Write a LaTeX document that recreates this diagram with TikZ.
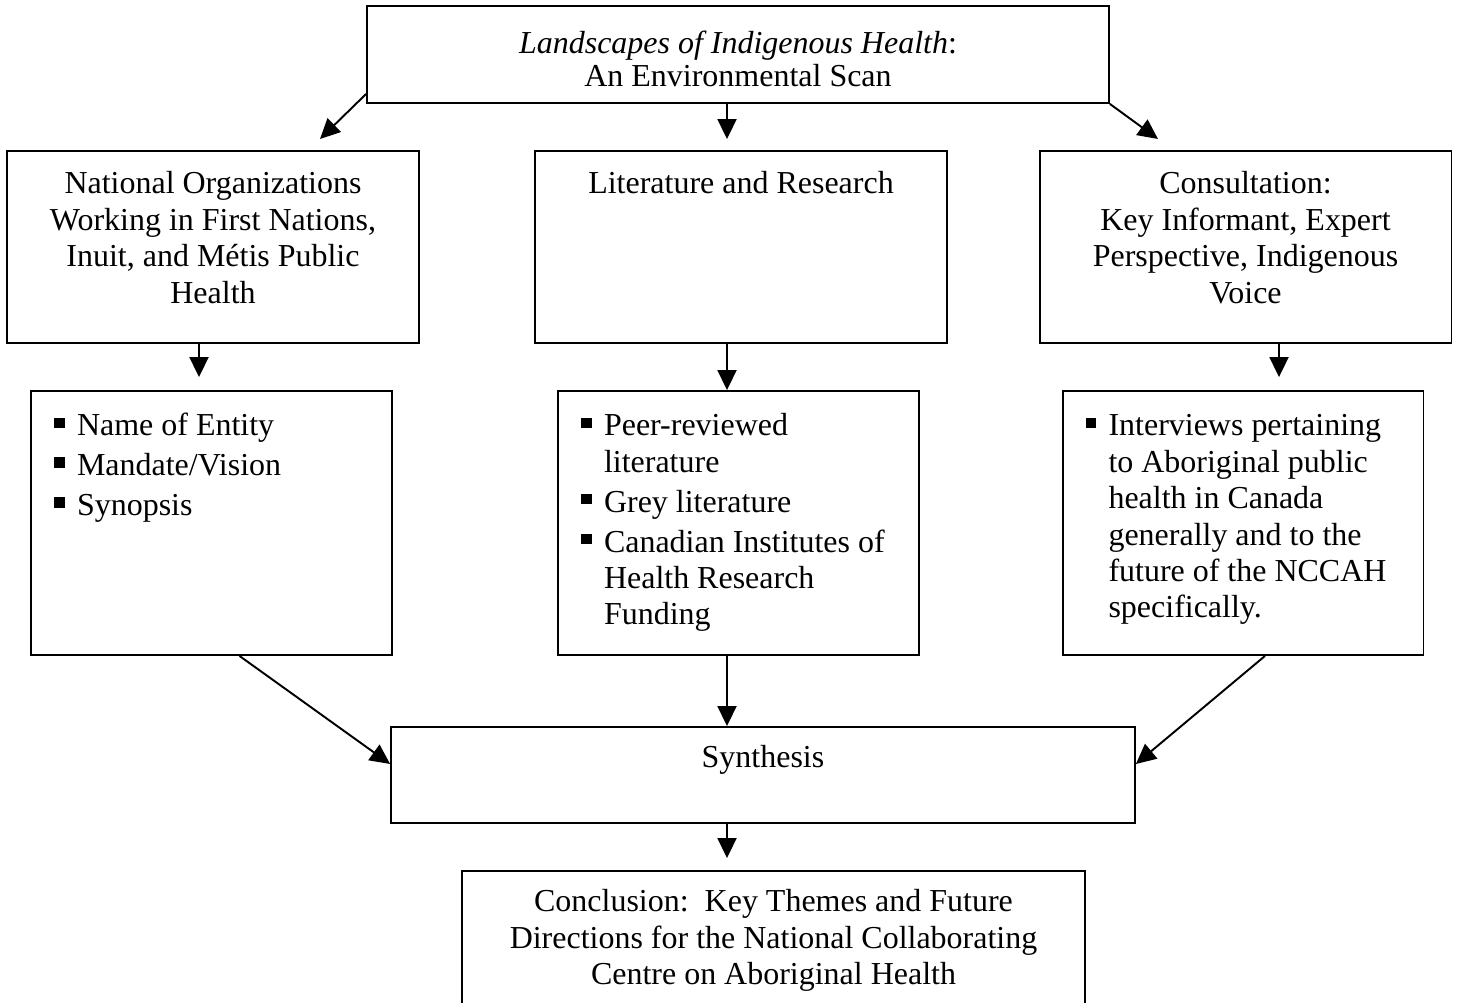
\documentclass[tikz,border=0pt]{standalone}
\usepackage{fontspec}
\setmainfont{Liberation Serif}
\usetikzlibrary{positioning, calc, arrows.meta}

\newcommand{\boxtext}[4]{\parbox[c][#2][t]{#1}{\vspace*{#3}#4}}
\newcommand{\sqitem}{\par\hangindent=0.92cm\hangafter=1\noindent\hspace*{0.46cm}\makebox[0.46cm][l]{\rule[0.16cm]{0.21cm}{0.21cm}}\strut}

\begin{document}
\begin{tikzpicture}[x=0.02cm, y=-0.02cm,
                    font=\fontsize{18.2}{20.7}\selectfont,
                    >={Triangle[length=0.4cm, width=0.38cm]},
                    box/.style={rectangle, draw, line width=1.1pt, inner sep=0pt},
                    link/.style={->, line width=1.1pt}]
    \useasboundingbox (0,0) rectangle (1460,1003);
    \def\wide{8.24cm}
    \def\narrow{7.22cm}
    \node (title)    [box] at (738,54.5)  {\boxtext{14.84cm}{1.94cm}{0.5cm}{\fontsize{18.2}{17.2}\selectfont\centering\strut\textit{Landscapes of Indigenous Health}:\\ An Environmental Scan}};
    \node (nat)      [box] at (213,247)   {\boxtext{\wide}{3.84cm}{0.35cm}{\centering\strut National Organizations\\ Working in First Nations,\\ Inuit, and Métis Public\\ Health}};
    \node (lit)      [box] at (741,247)   {\boxtext{\wide}{3.84cm}{0.35cm}{\centering\strut Literature and Research}};
    \node (cons)     [box] at (1245.5,247) {\boxtext{\wide}{3.84cm}{0.35cm}{\centering\strut Consultation:\\ Key Informant, Expert\\ Perspective, Indigenous\\ Voice}};
    \node (natlist)  [box] at (211.5,523) {\boxtext{\narrow}{5.28cm}{0.32cm}{\raggedright\setlength{\parskip}{2pt}
        \sqitem Name of Entity
        \sqitem Mandate/Vision
        \sqitem Synopsis}};
    \node (litlist)  [box] at (738.5,523) {\boxtext{\narrow}{5.28cm}{0.32cm}{\raggedright\setlength{\parskip}{2pt}
        \sqitem Peer-reviewed\newline literature
        \sqitem Grey literature
        \sqitem Canadian Institutes of\newline Health Research\newline Funding}};
    \node (conslist) [box] at (1243,523)  {\boxtext{\narrow}{5.28cm}{0.32cm}{\raggedright\setlength{\parskip}{2pt}
        \sqitem Interviews pertaining\newline to Aboriginal public\newline health in Canada\newline generally and to the\newline future of the NCCAH\newline specifically.}};
    \node (synth)    [box] at (763,775)   {\boxtext{14.88cm}{1.92cm}{0.31cm}{\centering\strut Synthesis}};
    \node (concl)    [box] at (773.5,943) {\boxtext{12.46cm}{2.88cm}{0.31cm}{\centering\strut Conclusion:\ \ Key Themes and Future\\ Directions for the National Collaborating\\ Centre on Aboriginal Health}};

    \coordinate (natin)  at (320,139);
    \coordinate (consin) at (1158,139);
    \coordinate (spine)  at (727,0);
    \coordinate (lspine) at (199,0);
    \coordinate (rspine) at (1279,0);

    \path[link] ($(title.south west)+(0,-10)$) edge (natin)
                (title.south -| spine) edge [shorten >=0.22cm] (lit.north -| spine)
                (title.south east) edge (consin);
    \path[link] (nat.south -| lspine) edge [shorten >=0.26cm] (natlist.north -| lspine)
                (lit.south -| spine) edge (litlist.north -| spine)
                (cons.south -| rspine) edge [shorten >=0.26cm] (conslist.north -| rspine);
    \path[link] ($(natlist.south)+(28,0)$) edge ($(synth.west)+(0,-11)$)
                (litlist.south -| spine) edge (synth.north -| spine)
                ($(conslist.south)+(22,0)$) edge ($(synth.east)+(0,-11)$);
    \path[link] (synth.south -| spine) edge [shorten >=0.24cm] (concl.north -| spine);
\end{tikzpicture}
\end{document}
